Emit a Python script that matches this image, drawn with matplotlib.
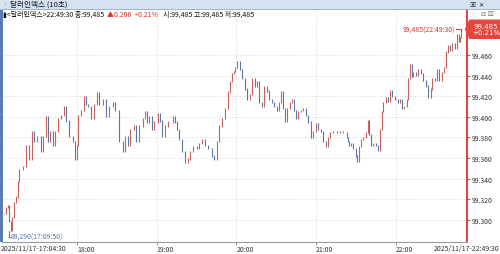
import matplotlib
matplotlib.use("Agg")
import matplotlib.pyplot as plt
from matplotlib.patches import Rectangle, Polygon
import numpy as np

plt.rcParams['font.family'] = ['Noto Sans CJK KR', 'DejaVu Sans']

# %%
# data: minutes since 17:04:30, last price of each sampled 10s bar
t_min = [0.0, 1.5, 3.0, 4.2, 5.3, 6.5, 7.5, 9.0, 10.5, 11.3, 14.3, 16.6, 18.8, 21.1, 22.6, 24.8,
         27.9, 29.4, 31.6, 33.1, 34.6, 36.9, 38.4, 40.7, 42.9, 45.2, 46.7, 48.9, 52.0, 53.5, 55.0,
         55.7, 58.0, 60.2, 61.7, 63.3, 65.5, 67.8, 70.0, 71.5, 74.5, 76.8, 79.1, 82.1, 84.3, 86.6,
         87.3, 89.6, 91.1, 93.4, 95.6, 97.9, 100.1, 101.7, 104.7, 106.2, 108.4, 109.9, 112.2,
         113.7, 116.0, 117.5, 119.7, 122.0, 124.2, 127.3, 128.8, 131.0, 132.5, 134.8, 137.0,
         139.3, 140.8, 143.1, 146.1, 147.6, 149.8, 152.1, 154.4, 157.4, 158.9, 161.1, 162.6,
         164.9, 167.2, 169.4, 170.9, 172.4, 173.9, 174.7, 176.2, 178.4, 179.9, 182.2, 183.7,
         186.0, 187.5, 189.8, 191.3, 192.8, 195.0, 196.5, 198.8, 200.3, 202.6, 204.1, 206.3,
         207.8, 209.3, 210.8, 212.3, 213.9, 216.1, 217.6, 219.1, 220.6, 222.1, 224.4, 225.9,
         228.2, 229.7, 231.9, 233.4, 235.7, 237.2, 239.5, 241.0, 243.2, 244.7, 246.2, 248.5,
         251.5, 253.8, 256.0, 259.1, 259.8, 260.6, 262.0, 263.6, 265.8, 266.6, 268.1, 269.6,
         271.1, 273.3, 274.8, 275.6, 277.1, 278.6, 280.9, 282.4, 283.9, 285.4, 286.1, 288.4,
         289.9, 291.4, 292.9, 295.2, 297.4, 298.9, 300.4, 302.0, 304.2, 305.0, 306.5, 308.0,
         308.7, 311.0, 312.5, 314.8, 316.3, 318.5, 320.0, 322.3, 323.0, 325.3, 326.8, 328.3,
         330.6, 332.1, 333.6, 335.1, 336.6, 338.1, 340.4, 341.9, 343.4, 344.2, 345.0]
price = [99.306, 99.312, 99.314, 99.298, 99.290, 99.302, 99.317, 99.322, 99.337, 99.349, 99.352,
         99.372, 99.359, 99.386, 99.376, 99.381, 99.366, 99.381, 99.400, 99.376, 99.386, 99.372,
         99.386, 99.398, 99.401, 99.410, 99.396, 99.381, 99.376, 99.359, 99.372, 99.401, 99.406,
         99.420, 99.412, 99.410, 99.398, 99.412, 99.423, 99.412, 99.417, 99.400, 99.410, 99.414,
         99.406, 99.391, 99.376, 99.366, 99.381, 99.372, 99.388, 99.391, 99.376, 99.391, 99.398,
         99.405, 99.395, 99.400, 99.388, 99.395, 99.403, 99.396, 99.381, 99.391, 99.395, 99.400,
         99.395, 99.388, 99.378, 99.366, 99.356, 99.359, 99.366, 99.371, 99.369, 99.374, 99.378,
         99.372, 99.369, 99.362, 99.359, 99.376, 99.391, 99.398, 99.408, 99.424, 99.434, 99.442,
         99.444, 99.448, 99.454, 99.446, 99.437, 99.427, 99.417, 99.422, 99.437, 99.430, 99.434,
         99.414, 99.410, 99.429, 99.425, 99.417, 99.414, 99.410, 99.406, 99.414, 99.424, 99.408,
         99.396, 99.408, 99.414, 99.417, 99.406, 99.398, 99.405, 99.406, 99.408, 99.401, 99.395,
         99.380, 99.386, 99.393, 99.388, 99.386, 99.376, 99.371, 99.380, 99.385, 99.386, 99.385,
         99.386, 99.385, 99.380, 99.376, 99.372, 99.374, 99.369, 99.362, 99.357, 99.371, 99.378,
         99.380, 99.385, 99.396, 99.383, 99.372, 99.374, 99.372, 99.367, 99.388, 99.405, 99.414,
         99.419, 99.415, 99.425, 99.420, 99.417, 99.414, 99.417, 99.408, 99.410, 99.417, 99.437,
         99.451, 99.439, 99.443, 99.440, 99.446, 99.442, 99.435, 99.430, 99.419, 99.427, 99.437,
         99.435, 99.446, 99.435, 99.443, 99.448, 99.463, 99.469, 99.464, 99.471, 99.466, 99.480,
         99.473, 99.477, 99.485]

hour_labels = ["18:00", "19:00", "20:00", "21:00", "22:00"]
price_ticks = [99.300, 99.320, 99.340, 99.360, 99.380, 99.400, 99.420, 99.440, 99.460]
start_label = "2025/11/17-17:04:30"
end_label = "2025/11/17-22:49:30"
title = "달러인덱스 (10초)"
last_txt = "99,485(22:49:30)"
low_txt = "99,290(17:09:50)"
low_t, low_p = 5.3, 99.290
last_t, last_p = 345.0, 99.485
change_pct = "+0.21%"

UP = "#c9605a"
DOWN = "#5a77a6"
RED = "#d9342b"

# %%
# figure
fig = plt.figure(figsize=(5, 2.55), dpi=100)
W, H = 500, 255
ax = fig.add_axes([2 / W, 12 / H, 465 / W, 232 / H])

t = np.array(t_min)
p = np.array(price)
opens = np.r_[p[0], p[:-1]]
lo = np.minimum(opens, p) - 0.0006
hi = np.maximum(opens, p) + 0.0006
cols = [UP if c >= o else DOWN for o, c in zip(opens, p)]
ax.vlines(t, lo, hi, colors=cols, lw=0.8)

ax.set_xlim(-1.3, 349.4)
ax.set_ylim(99.2784, 99.5037)

hour_pos = [int(h[:2]) * 60 - (17 * 60 + 4.5) for h in hour_labels]
ax.set_xticks(hour_pos)
ax.set_xticklabels(hour_labels, ha="left", fontsize=5, color="#333333")
ax.tick_params(axis="x", length=2, width=0.6, color="#888888", pad=0.5)
ax.set_yticks(price_ticks)
ax.set_yticklabels([f"{v:,.3f}" for v in price_ticks], fontsize=5, color="#333333")
ax.yaxis.tick_right()
ax.tick_params(axis="y", length=2, width=0.6, color=RED, pad=1.5)
ax.grid(True, color="#cccccc", ls=(0, (1, 2)), lw=0.6)
ax.set_axisbelow(True)
for s in ["top", "left"]:
    ax.spines[s].set_visible(False)
ax.spines["bottom"].set_color("#9a9a9a")
ax.spines["bottom"].set_linewidth(0.8)
ax.spines["right"].set_color(RED)
ax.spines["right"].set_linewidth(1.3)

# first / last time labels under the axis
fig.text(0.5 / W, 1 - 249 / H, start_label, fontsize=5, color="#333333", va="center", ha="left")
fig.text(499.5 / W, 1 - 249 / H, end_label, fontsize=5, color="#333333", va="center", ha="right")

# high / low markers
ax.plot([340.8, 344.6, 344.6], [last_p, last_p, last_p - 0.002], color=RED, lw=0.7)
ax.text(340.4, last_p, last_txt, fontsize=5, color=RED, ha="right", va="center")
ax.plot([3.8, 3.8, 5.2], [low_p - 0.001, low_p - 0.0068, low_p - 0.0068], color=DOWN, lw=0.7)
ax.text(5.5, low_p - 0.0068, low_txt, fontsize=5, color=DOWN, ha="left", va="center")

# current price box on the right axis
tr = ax.get_yaxis_transform()
bh = 0.0088
box = Polygon([(0.997, last_p), (1.006, last_p + bh), (1.076, last_p + bh),
               (1.076, last_p - bh), (1.006, last_p - bh)],
              closed=True, transform=tr, color="#e8453c", clip_on=False, zorder=5)
ax.add_patch(box)
ax.text(1.041, last_p, f"{last_p:,.3f}\n{change_pct}", transform=tr, fontsize=5, color="white",
        ha="center", va="center", linespacing=0.95, zorder=6, family="DejaVu Sans")

# window chrome
fig.patches.append(Rectangle((0, 1 - 10 / H), 1, 10 / H, transform=fig.transFigure,
                             facecolor="#d5e3f1", edgecolor="none"))
fig.patches.append(Rectangle((0, 1 - 10.8 / H), 1, 0.8 / H, transform=fig.transFigure,
                             facecolor="#9fb7d3", edgecolor="none"))
fig.patches.append(Rectangle((0, 12 / H), 2.5 / W, 232 / H, transform=fig.transFigure,
                             facecolor="#5b7db3", edgecolor="none"))
fig.text(10 / W, 1 - 5 / H, title, fontsize=5.5, color="#111111", va="center")
fig.text(2 / W, 1 - 5 / H, "⋮", fontsize=5, color="#7a8fa8", va="center")
fig.text(470 / W, 1 - 5 / H, "▣  ✕", fontsize=4.5, color="#222222", va="center")
fig.text(481 / W, 1 - 14.5 / H, "⊟ ⊠", fontsize=4.5, color="#777777", va="center")

# info line
y_info = 1 - 15 / H
fig.text(3 / W, y_info, "▮<달러인덱스>22:49:30 종:99,485", fontsize=5, color="#111111", va="center")
fig.text(107 / W, y_info, "▲0.206  +0.21%", fontsize=5, color=RED, va="center")
fig.text(163 / W, y_info, "시:99,485 고:99,485 저:99,485", fontsize=5, color="#111111", va="center")

fig.savefig("out.png", dpi=100)
